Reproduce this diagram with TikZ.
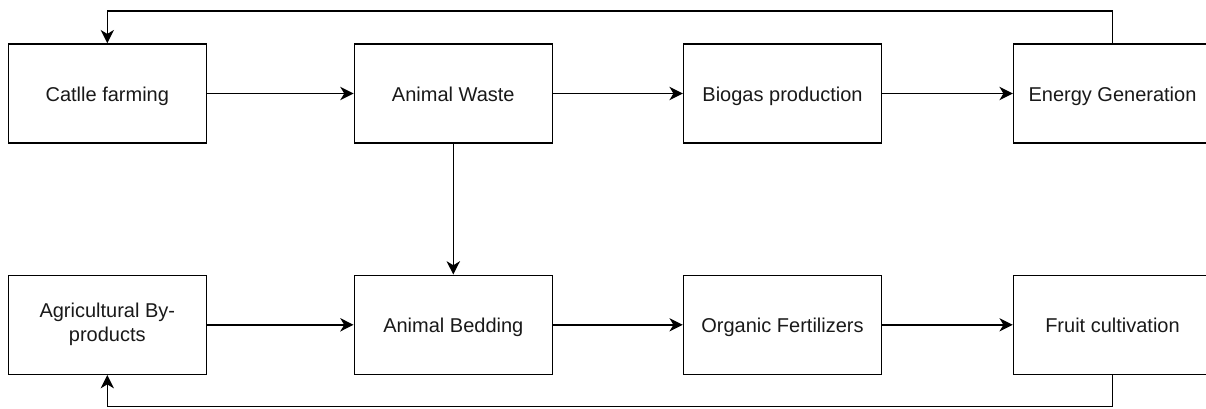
\documentclass[tikz,border=0pt]{standalone}
\usepackage{fontspec}
\setmainfont{Liberation Sans}
\usetikzlibrary{arrows.meta}
\begin{document}
\begin{tikzpicture}[x=0.75pt,y=-0.75pt,
  box/.style={draw=black, line width=1.1pt, minimum width=148.5pt, minimum height=74.25pt,
    inner sep=0pt, align=center, text height=12.8pt, text depth=1.2pt,
    font=\fontsize{15}{18}\selectfont, text=black!90},
  conn/.style={line width=1.1pt, -{Stealth[length=10pt,width=10pt,inset=3pt]}}]
\useasboundingbox (0,0) rectangle (1206,408);
\clip (0,0) rectangle (1206,408);
\node[box] (cf) at (107.3,93.5) {Catlle farming};
\node[box] (aw) at (453.3,93.5) {Animal Waste};
\node[box] (bp) at (782.5,93.5) {Biogas production};
\node[box] (eg) at (1112.5,93.5) {Energy Generation};
\node[box, text height=, text depth=] (ab) at (107.3,324.8) {Agricultural By-\\products};
\node[box] (bd) at (453.3,324.8) {Animal Bedding};
\node[box] (of) at (782.5,324.8) {Organic Fertilizers};
\node[box] (fc) at (1112.5,324.8) {Fruit cultivation};
\coordinate (t1) at (1112.5,11);
\coordinate (t2) at (107.3,11);
\coordinate (b1) at (1112.5,406.5);
\coordinate (b2) at (107.3,406.5);
\draw[conn] (cf) -- (aw);
\draw[conn] (aw) -- (bp);
\draw[conn] (bp) -- (eg);
\draw[conn] (ab) -- (bd);
\draw[conn] (bd) -- (of);
\draw[conn] (of) -- (fc);
\draw[conn] (aw) -- (bd);
\draw[conn] (eg.north) -- (t1) -- (t2) -- (cf.north);
\draw[conn] (fc.south) -- (b1) -- (b2) -- (ab.south);
\end{tikzpicture}
\end{document}
